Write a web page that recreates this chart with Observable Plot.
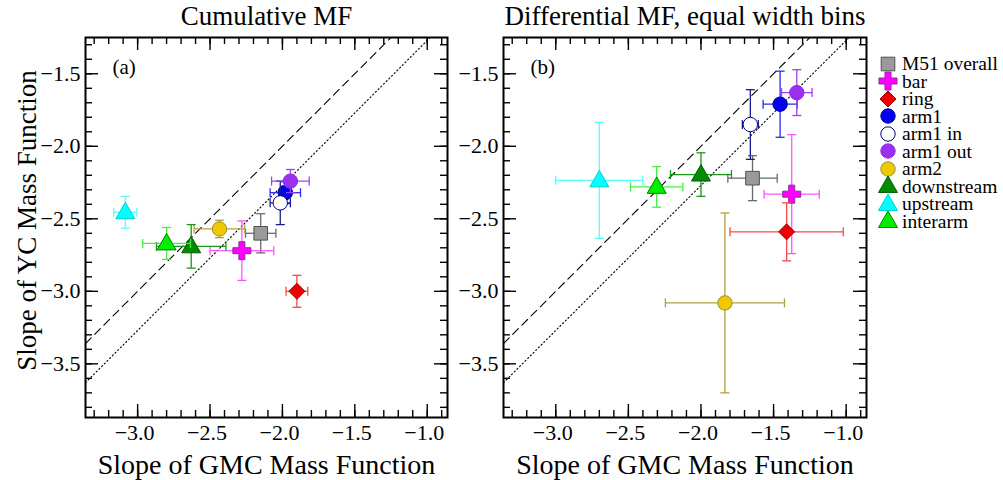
<!DOCTYPE html>
<html>
<head>
<meta charset="utf-8">
<script src="https://cdn.jsdelivr.net/npm/d3@7"></script>
<script src="https://cdn.jsdelivr.net/npm/@observablehq/plot@0.6"></script>
<style>
  body { margin: 0; background: #fff; }
  #chart { position: relative; width: 1003px; height: 480px; background: #fff; color: #000; }
  #chart, #chart * { font-family: "Liberation Serif", "Times New Roman", serif !important; }
  #chart > svg { position: absolute; top: 0; }
  #legend { position: absolute; left: 879px; top: 55px; font-size: 19.5px; line-height: 17.5px; }
  #legend .row { display: flex; align-items: center; height: 17.5px; white-space: nowrap; }
  #legend svg { width: 18px; height: 18px; margin-right: 5px; overflow: visible; flex: none; }
</style>
</head>
<body>
<div id="chart"><div id="legend"></div></div>
<script>
// Region groups, in legend order
const groups = ["M51 overall", "bar", "ring", "arm1", "arm1 in", "arm1 out",
                "arm2", "downstream", "upstream", "interarm"];

// (a) cumulative mass function slopes
const cumGmcSlope = [-2.15, -2.28, -1.90, -1.98, -2.015, -1.945, -2.435, -2.63, -3.085, -2.80];
const cumGmcErr   = [0.105, 0.22, 0.075, 0.105, 0.07, 0.13, 0.175, 0.24, 0.08, 0.165];
const cumYcSlope  = [-2.60, -2.72, -3.00, -2.32, -2.39, -2.24, -2.57, -2.69, -2.455, -2.67];
const cumYcErr    = [0.135, 0.205, 0.11, 0.075, 0.15, 0.08, 0.06, 0.15, 0.11, 0.11];

// (b) differential mass function slopes, equal width bins
const difGmcSlope = [-1.645, -1.375, -1.41, -1.455, -1.66, -1.34, -1.835, -2.00, -2.70, -2.305];
const difGmcErr   = [0.17, 0.19, 0.39, 0.117, 0.055, 0.105, 0.41, 0.21, 0.30, 0.18];
const difYcSlope  = [-2.22, -2.33, -2.59, -1.71, -1.85, -1.63, -3.08, -2.195, -2.235, -2.28];
const difYcErr    = [0.155, 0.41, 0.20, 0.228, 0.24, 0.158, 0.62, 0.15, 0.40, 0.14];

// Tick values
const xMajorTicks = [-3.0, -2.5, -2.0, -1.5, -1.0];
const xMinorTicks = d3.range(-33, -8).map(k => k / 10);
const yMajorTicks = [-3.5, -3.0, -2.5, -2.0, -1.5];
const yMinorTicks = d3.range(-38, -12).map(k => k / 10);

// Reference relations: YC slope = GMC slope + offset
const equalityOffset = 0;
const shiftedOffset = -0.27;

const xDomain = [-3.36, -0.86];
const yDomain = [-3.87, -1.25];

// Marker shapes (size = pi r^2, so r is the half extent)
const half = size => Math.sqrt(size / Math.PI);
const shapes = {
  square: { draw(c, s) { const h = half(s); c.rect(-h, -h, 2 * h, 2 * h); } },
  circle: { draw(c, s) { const h = half(s); c.moveTo(h, 0); c.arc(0, 0, h, 0, 2 * Math.PI); } },
  diamond: { draw(c, s) { const h = half(s); c.moveTo(0, -h); c.lineTo(h, 0); c.lineTo(0, h); c.lineTo(-h, 0); c.closePath(); } },
  cross: { draw(c, s) { const h = half(s), t = h / 3;
    c.moveTo(-t, -h); c.lineTo(t, -h); c.lineTo(t, -t); c.lineTo(h, -t); c.lineTo(h, t); c.lineTo(t, t);
    c.lineTo(t, h); c.lineTo(-t, h); c.lineTo(-t, t); c.lineTo(-h, t); c.lineTo(-h, -t); c.lineTo(-t, -t); c.closePath(); } },
  triangle: { draw(c, s) { const h = half(s);
    c.moveTo(0, -1.05 * h); c.lineTo(h, 0.68 * h); c.lineTo(-h, 0.68 * h); c.closePath(); } }
};
const vCap = { draw(c, s) { const h = half(s); c.moveTo(0, -h); c.lineTo(0, h); } };
const hCap = { draw(c, s) { const h = half(s); c.moveTo(-h, 0); c.lineTo(h, 0); } };

const markerShape = ["square", "cross", "diamond", "circle", "circle", "circle", "circle", "triangle", "triangle", "triangle"];
const markerSize  = [6.8, 9, 8, 7.2, 7.2, 7.2, 7.2, 9.5, 9.5, 9.5];
const markerFill  = ["#9a9a9a", "#ff00ff", "#ee0000", "#0000ee", "#ffffff", "#9b30f0", "#eec900", "#008b00", "#00ffff", "#00ee00"];
const markerStroke = ["#505050", "#8b2a9b", "#990000", "#0000a0", "#000080", "#8a2be2", "#a08c2a", "#006000", "#00d0d0", "#008000"];
const errorColor  = ["#6a6a6a", "#ff55ff", "#f24a4a", "#2a2aee", "#1a1a90", "#a040f0", "#b0a040", "#1a961a", "#55ffff", "#44ee44"];

const serif = "Liberation Serif, Times New Roman, serif";
const H = 480, marginTop = 37, marginBottom = 63;
const frameH = H - marginTop - marginBottom;

function panel({ gmc, gmcErr, yc, ycErr, title, tag, width, marginLeft, marginRight, yTitle }) {
  const frameW = width - marginLeft - marginRight;
  const rows = groups.map((g, i) => ({ group: g, i, x: gmc[i], xe: gmcErr[i], y: yc[i], ye: ycErr[i] }));
  const marks = [
    // reference lines
    Plot.line(xDomain, { x: d => d, y: d => d + equalityOffset, stroke: "#000", strokeWidth: 1.1, strokeDasharray: "8,5", clip: true }),
    Plot.line(xDomain, { x: d => d, y: d => d + shiftedOffset, stroke: "#000", strokeWidth: 1.1, strokeDasharray: "1.2,2.6", clip: true })
  ];
  for (const r of rows) {
    const col = errorColor[r.i];
    marks.push(
      Plot.link([r], { x1: d => d.x - d.xe, x2: d => d.x + d.xe, y1: d => d.y, y2: d => d.y, stroke: col, strokeWidth: 1.3 }),
      Plot.link([r], { x1: d => d.x, x2: d => d.x, y1: d => d.y - d.ye, y2: d => d.y + d.ye, stroke: col, strokeWidth: 1.3 }),
      Plot.dot([r.x - r.xe, r.x + r.xe], { x: d => d, y: () => r.y, symbol: vCap, r: 4.5, fill: "none", stroke: col, strokeWidth: 1.3 }),
      Plot.dot([r.y - r.ye, r.y + r.ye], { x: () => r.x, y: d => d, symbol: hCap, r: 4.5, fill: "none", stroke: col, strokeWidth: 1.3 }),
      Plot.dot([r], { x: "x", y: "y", symbol: shapes[markerShape[r.i]], r: markerSize[r.i],
                      fill: markerFill[r.i], stroke: markerStroke[r.i], strokeWidth: 1 })
    );
  }
  marks.push(
    // inward ticks on all four sides
    Plot.ruleX(xMinorTicks, { x: d => d, insetTop: frameH - 7, stroke: "#000", strokeWidth: 1.4 }),
    Plot.ruleX(xMajorTicks, { x: d => d, insetTop: frameH - 13, stroke: "#000", strokeWidth: 1.4 }),
    Plot.ruleX(xMinorTicks, { x: d => d, insetBottom: frameH - 7, stroke: "#000", strokeWidth: 1.4 }),
    Plot.ruleX(xMajorTicks, { x: d => d, insetBottom: frameH - 13, stroke: "#000", strokeWidth: 1.4 }),
    Plot.ruleY(yMinorTicks, { y: d => d, insetRight: frameW - 7, stroke: "#000", strokeWidth: 1.4 }),
    Plot.ruleY(yMajorTicks, { y: d => d, insetRight: frameW - 13, stroke: "#000", strokeWidth: 1.4 }),
    Plot.ruleY(yMinorTicks, { y: d => d, insetLeft: frameW - 7, stroke: "#000", strokeWidth: 1.4 }),
    Plot.ruleY(yMajorTicks, { y: d => d, insetLeft: frameW - 13, stroke: "#000", strokeWidth: 1.4 }),
    Plot.frame({ stroke: "#000", strokeWidth: 2 }),
    Plot.axisX({ ticks: xMajorTicks, tickSize: 0, tickPadding: 7, dx: -3, tickFormat: d3.format(".1f"), fontSize: 22, fontFamily: serif, label: null }),
    Plot.axisY({ ticks: yMajorTicks, tickSize: 0, tickPadding: 5, tickFormat: d3.format(".1f"), fontSize: 22, fontFamily: serif, label: null }),
    Plot.text([title], { text: d => d, frameAnchor: "top", dy: -21, fontSize: 27, fontFamily: serif, lineAnchor: "middle" }),
    Plot.text([tag], { text: d => d, frameAnchor: "top-left", dx: 27, dy: 30, fontSize: 21, fontFamily: serif, textAnchor: "start", lineAnchor: "middle" }),
    Plot.text(["Slope of GMC Mass Function"], { text: d => d, frameAnchor: "bottom", dy: 48, fontSize: 28, fontFamily: serif, lineAnchor: "middle" })
  );
  if (yTitle) {
    marks.push(Plot.text([yTitle], { text: d => d, frameAnchor: "left", dx: -58, dy: -7, rotate: -90,
      fontSize: 27, fontFamily: serif, textAnchor: "middle", lineAnchor: "middle" }));
  }
  return Plot.plot({
    width, height: H, marginLeft, marginRight, marginTop, marginBottom,
    x: { domain: xDomain, label: null },
    y: { domain: yDomain, label: null },
    style: { fontFamily: serif, fontSize: "20px", background: "transparent", color: "#000", overflow: "visible" },
    marks
  });
}

const chart = document.getElementById("chart");

const left = panel({ gmc: cumGmcSlope, gmcErr: cumGmcErr, yc: cumYcSlope, ycErr: cumYcErr,
  title: "Cumulative MF", tag: "(a)", width: 460, marginLeft: 85, marginRight: 13,
  yTitle: "Slope of YC Mass Function" });
left.style.left = "0px";
chart.appendChild(left);

const right = panel({ gmc: difGmcSlope, gmcErr: difGmcErr, yc: difYcSlope, ycErr: difYcErr,
  title: "Differential MF, equal width bins", tag: "(b)", width: 430, marginLeft: 53, marginRight: 14 });
right.style.left = "450px";
chart.appendChild(right);

// Legend with the same marker shapes
const legend = d3.select("#legend");
groups.forEach((g, i) => {
  const row = legend.append("div").attr("class", "row");
  row.append("svg").append("path")
    .attr("transform", "translate(9,9)")
    .attr("d", d3.symbol().type(shapes[markerShape[i]]).size(Math.PI * markerSize[i] * markerSize[i])())
    .attr("fill", markerFill[i]).attr("stroke", markerStroke[i]).attr("stroke-width", 1);
  row.append("span").text(g);
});
</script>
</body>
</html>
